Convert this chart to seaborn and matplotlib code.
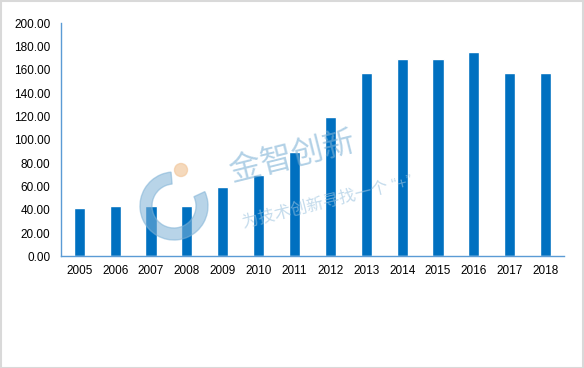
import matplotlib

matplotlib.use("Agg")

import matplotlib.pyplot as plt
import pandas as pd
import seaborn as sns
from matplotlib.patches import Rectangle, Wedge, Circle

years = ["2005", "2006", "2007", "2008", "2009", "2010", "2011",
         "2012", "2013", "2014", "2015", "2016", "2017", "2018"]
values = [42, 43.5, 43.5, 43.5, 60, 70, 90, 120, 157.5, 169.5, 169.5, 175.5, 157.5, 157.5]
y_ticks = [0, 20, 40, 60, 80, 100, 120, 140, 160, 180, 200]

sns.set_theme(style="white")
plt.rcParams["font.family"] = ["Liberation Sans", "Noto Sans CJK SC", "DejaVu Sans"]

df = pd.DataFrame({"year": years, "value": values})

fig = plt.figure(figsize=(5.84, 3.68), dpi=100)
ax = fig.add_axes([0.105, 0.303, 0.86, 0.634])

sns.barplot(data=df, x="year", y="value", order=years, color="#0070C0",
            saturation=1, width=0.31, ax=ax)

ax.set_ylim(0, 200)
ax.set_yticks(y_ticks)
ax.set_yticklabels([f"{v:.2f}" for v in y_ticks])
ax.set_xlabel("")
ax.set_ylabel("")
ax.tick_params(axis="both", length=0, labelsize=8.5, colors="#000000", pad=6)
ax.tick_params(axis="y", pad=8)
for side in ["top", "right"]:
    ax.spines[side].set_visible(False)
for side in ["left", "bottom"]:
    ax.spines[side].set_color("#5B9BD5")
    ax.spines[side].set_linewidth(1.0)

# watermark logo and slogan (drawn in inches so circles stay round)
inch = fig.dpi_scale_trans
fig.patches.append(Wedge((1.74, 1.62), 0.34, 95, 385, width=0.12,
                         transform=inch, color="#7FB2D6", alpha=0.55, zorder=5))
fig.patches.append(Circle((1.81, 1.98), 0.065, transform=inch,
                          color="#F2C9A0", alpha=0.7, zorder=5))
fig.text(0.5, 0.57, "金智创新", fontsize=23, color="#7FB2D6", alpha=0.6,
         rotation=14, ha="center", va="center", zorder=6)
fig.text(0.56, 0.45, "为技术创新寻找一个 \u201c+\u201d", fontsize=12, color="#9CC3DF",
         alpha=0.6, rotation=14, ha="center", va="center", zorder=6)

fig.patches.append(Rectangle((0.001, 0.001), 0.997, 0.996, transform=fig.transFigure,
                             fill=False, edgecolor="#D9D9D9", linewidth=1.5))

fig.savefig("out.png", dpi=100)
